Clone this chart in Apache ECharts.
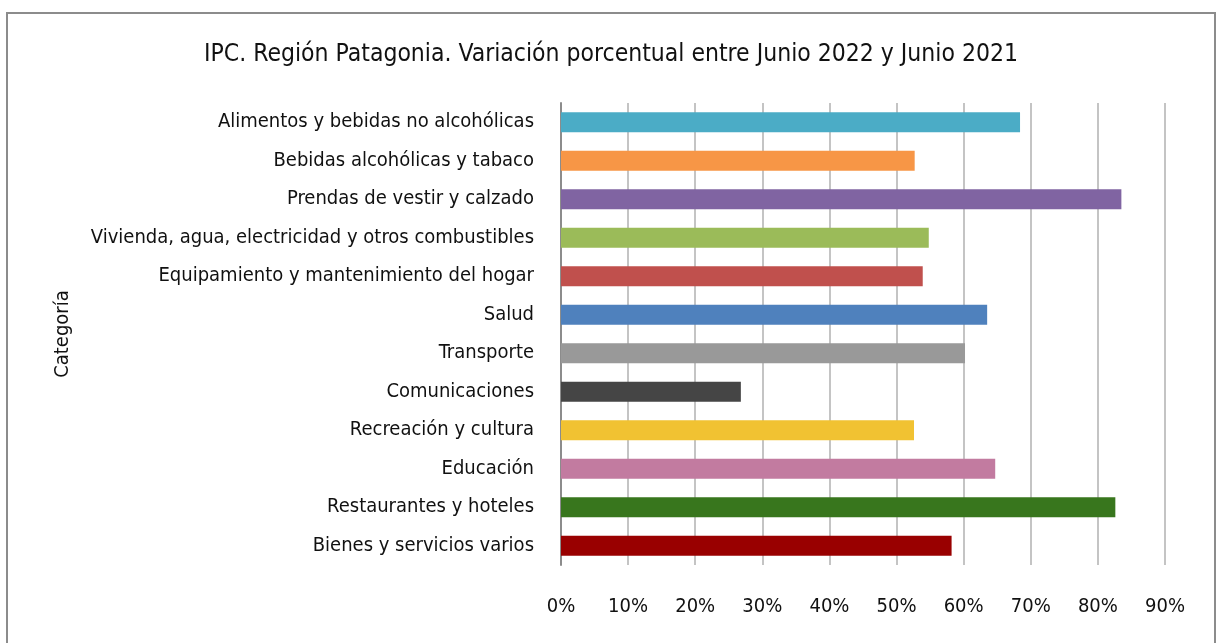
<!DOCTYPE html>
<html lang="es">
<head>
    <meta charset="UTF-8">
    <title>IPC Región Patagonia</title>
    <script src="https://cdn.jsdelivr.net/npm/echarts@6/dist/echarts.min.js"></script>
    <style>
        html, body { margin: 0; padding: 0; background: #fff; }
    </style>
</head>
<body>
<div id="main" style="width: 1222px;height:643px;"></div>
<script type="text/javascript">
    // categorías (de arriba hacia abajo)
    var categorias = [
        'Alimentos y bebidas no alcohólicas',
        'Bebidas alcohólicas y tabaco',
        'Prendas de vestir y calzado',
        'Vivienda, agua, electricidad y otros combustibles',
        'Equipamiento y mantenimiento del hogar',
        'Salud',
        'Transporte',
        'Comunicaciones',
        'Recreación y cultura',
        'Educación',
        'Restaurantes y hoteles',
        'Bienes y servicios varios'
    ];
    // variación porcentual junio 2022 / junio 2021
    var variacion = [68.4, 52.7, 83.5, 54.8, 53.9, 63.5, 60.2, 26.8, 52.6, 64.7, 82.6, 58.2];
    var colores = ['#4BACC6', '#F79646', '#8064A2', '#9BBB59', '#C0504D', '#4F81BD',
                   '#999999', '#454545', '#F1C232', '#C27BA0', '#38761D', '#990000'];
    var ticks = [0, 10, 20, 30, 40, 50, 60, 70, 80, 90];

    var fuente = '"Liberation Sans Narrow", "DejaVu Sans Condensed", sans-serif';
    var myChart = echarts.init(document.getElementById('main'));

    myChart.setOption({
        animation: false,
        textStyle: { fontFamily: fuente },
        title: {
            text: 'IPC. Región Patagonia. Variación porcentual entre Junio 2022 y Junio 2021',
            left: 'center',
            top: 37,
            textStyle: { fontFamily: fuente, fontSize: 24.5, fontWeight: 'normal', color: '#111' }
        },
        graphic: [{
            type: 'rect',
            shape: { x: 7, y: 13, width: 1208, height: 700 },
            style: { fill: 'none', stroke: '#8c8c8c', lineWidth: 2 },
            silent: true
        }],
        grid: {
            left: 561,
            right: 57,
            top: 103,
            height: 462,
            containLabel: false,
            outerBoundsMode: 'none'
        },
        xAxis: {
            type: 'value',
            min: ticks[0],
            max: ticks[ticks.length - 1],
            interval: 10,
            axisLine: { show: false },
            axisTick: { show: false },
            axisLabel: {
                formatter: '{value}%',
                margin: 32,
                fontSize: 20,
                color: '#111',
                fontFamily: fuente
            },
            splitLine: { lineStyle: { color: '#c4c4c4', width: 2 } }
        },
        yAxis: {
            type: 'category',
            inverse: true,
            data: categorias,
            name: 'Categoría',
            nameLocation: 'middle',
            nameGap: 488,
            nameRotate: 90,
            nameTextStyle: { fontSize: 20, color: '#111', fontFamily: fuente },
            axisLine: { show: true, lineStyle: { color: '#8c8c8c', width: 2 } },
            axisTick: { show: false },
            axisLabel: { margin: 27, fontSize: 20, color: '#111', fontFamily: fuente }
        },
        series: [{
            type: 'bar',
            data: variacion.map(function (v, i) {
                return { value: v, itemStyle: { color: colores[i] } };
            }),
            barWidth: 20
        }]
    });
</script>
</body>
</html>
